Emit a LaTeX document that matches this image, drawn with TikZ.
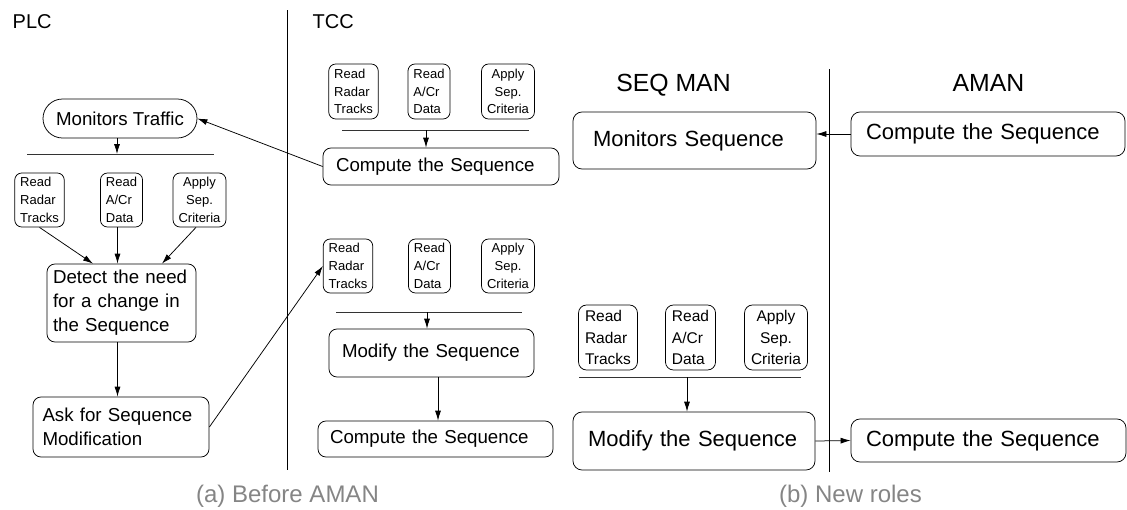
\documentclass[tikz,border=0pt]{standalone}
\usepackage{fontspec}
\setmainfont{Liberation Sans}
\usetikzlibrary{arrows.meta}
\definecolor{capgray}{HTML}{858585}
\newcommand{\fmain}{\fontsize{18.7}{24}\selectfont}
\newcommand{\fsmall}{\fontsize{13}{17.7}\selectfont}
\newcommand{\fmainb}{\fontsize{22}{28}\selectfont}
\newcommand{\fsmallb}{\fontsize{15.5}{21.7}\selectfont}

\begin{document}
\begin{tikzpicture}[x=1pt, y=-1pt, ->, >={Latex[length=10pt,width=6pt]}, line width=0.75pt,
    box/.style={draw, rectangle, rounded corners=8pt, align=left, inner ysep=0pt, font=\fmain},
    boxb/.style={box, rounded corners=9pt, font=\fmainb},
    smallbox/.style={draw, rectangle, rounded corners=7pt, align=left, inner xsep=5.5pt, inner ysep=1pt, minimum height=54pt, font=\fsmall},
    smallboxb/.style={smallbox, rounded corners=8pt, inner xsep=6.5pt, minimum height=65pt, font=\fsmallb},
    title/.style={font=\fontsize{20}{24}\selectfont},
    titleb/.style={font=\fontsize{24.8}{30}\selectfont},
    caption/.style={text=capgray, font=\fontsize{24}{28}\selectfont},
    bar/.style={-, line width=0.8pt, black!80},
    lane/.style={-, line width=1pt}]
    \useasboundingbox (0,0) rectangle (1127,509);

    % (a) before AMAN
    \node[title, anchor=base west] (plc) at (9,28) {PLC};
    \node[title, anchor=base west] (tcc) at (309,28) {TCC};
    \coordinate (laneA_top) at (287,10);
    \coordinate (laneA_bot) at (287,470);
    \draw[lane] (laneA_top) -- (laneA_bot);

    \node[box, align=center, rounded corners=19.5pt, minimum width=154pt, minimum height=39pt] (mon_traffic) at (120,118.5) {Monitors Traffic};
    \coordinate (barA_l) at (27,154);
    \coordinate (barA_r) at (214,154);
    \draw[bar] (barA_l) -- (barA_r);
    \draw ([xshift=-3pt]mon_traffic.south) -- ([xshift=-3pt]mon_traffic.south |- barA_l);

    \node[smallbox] (radar_a) at (39.5,200) {Read\\Radar\\Tracks};
    \node[smallbox] (acr_a) at (121.5,200) {Read\\A/Cr\\Data};
    \node[smallbox, align=center] (sep_a) at (199.5,200) {Apply\\Sep.\\Criteria};

    \node[box, text width=137pt, inner xsep=6pt, minimum height=78pt] (detect) at (121.5,303) {Detect the need\\for a change in\\the Sequence};
    \draw (radar_a.south) -- ([xshift=-28.5pt]detect.north);
    \draw ([xshift=-4pt]acr_a.south) -- ([xshift=-4pt]acr_a.south |- detect.north);
    \draw ([xshift=-3.5pt]sep_a.south) -- ([xshift=40.5pt]detect.north);

    \node[box, text width=157pt, inner xsep=9.5pt, minimum height=60pt] (ask_mod) at (121,427) {Ask for Sequence\\Modification};
    \draw ([xshift=-4pt]detect.south) -- ([xshift=-4pt]detect.south |- ask_mod.north);

    % TCC, top
    \node[smallbox, minimum height=55pt] (radar_b) at (353.5,91.5) {Read\\Radar\\Tracks};
    \node[smallbox, minimum height=55pt] (acr_b) at (429,91.5) {Read\\A/Cr\\Data};
    \node[smallbox, minimum height=55pt, align=center] (sep_b) at (508,91.5) {Apply\\Sep.\\Criteria};
    \coordinate (barB_l) at (342,130);
    \coordinate (barB_r) at (529,130);
    \draw[bar] (barB_l) -- (barB_r);
    \node[box, text width=210pt, inner xsep=13pt, minimum height=37pt] (comp_b) at (441,166.5) {Compute the Sequence};
    \draw ([xshift=-15pt]comp_b.north |- barB_l) -- ([xshift=-15pt]comp_b.north);

    % TCC, bottom
    \node[smallbox] (radar_c) at (348,266) {Read\\Radar\\Tracks};
    \node[smallbox] (acr_c) at (429.5,266) {Read\\A/Cr\\Data};
    \node[smallbox, align=center] (sep_c) at (508,266) {Apply\\Sep.\\Criteria};
    \coordinate (barC_l) at (336,312);
    \coordinate (barC_r) at (522,312);
    \draw[bar] (barC_l) -- (barC_r);
    \node[box, text width=179pt, inner xsep=13pt, minimum height=48pt] (modify_c) at (431.5,353) {Modify the Sequence};
    \draw ([xshift=-4.5pt]modify_c.north |- barC_l) -- ([xshift=-4.5pt]modify_c.north);
    \node[box, text width=211pt, inner xsep=12pt, minimum height=36pt] (comp_c) at (435.5,439) {Compute the Sequence};
    \draw ([xshift=6.5pt]modify_c.south) -- ([xshift=6.5pt]modify_c.south |- comp_c.north);

    % PLC <-> TCC
    \draw (comp_b.west) -- (mon_traffic.east);
    \draw (ask_mod.east) -- (radar_c.west);

    \node[caption, anchor=base] (cap_a) at (287.5,502) {(a) Before AMAN};

    % (b) new roles
    \node[titleb, anchor=base] (seq_man) at (673.5,91.7) {SEQ MAN};
    \node[titleb, anchor=base] (aman) at (988.5,91.7) {AMAN};
    \coordinate (laneB_top) at (829,69);
    \coordinate (laneB_bot) at (829,472);
    \draw[lane] (laneB_top) -- (laneB_bot);

    \node[boxb, text width=203pt, inner xsep=20pt, minimum height=57pt] (mon_seq) at (694.5,140.5) {Monitors Sequence};
    \node[boxb, text width=244pt, inner xsep=15pt, minimum height=44pt] (comp_d) at (988,134) {Compute the Sequence};
    \draw (comp_d.west) -- (comp_d.west -| mon_seq.east);

    \node[smallboxb] (radar_d) at (608,337.5) {Read\\Radar\\Tracks};
    \node[smallboxb] (acr_d) at (690.5,337.5) {Read\\A/Cr\\Data};
    \node[smallboxb, align=center] (sep_d) at (776,337.5) {Apply\\Sep.\\Criteria};
    \coordinate (barD_l) at (579,377);
    \coordinate (barD_r) at (801,377);
    \draw[bar] (barD_l) -- (barD_r);
    \node[boxb, text width=212pt, inner xsep=15pt, minimum height=58pt] (modify_d) at (694,441) {Modify the Sequence};
    \draw ([xshift=-7pt]modify_d.north |- barD_l) -- ([xshift=-7pt]modify_d.north);
    \node[boxb, text width=245pt, inner xsep=15pt, minimum height=43pt] (comp_e) at (988.5,440.5) {Compute the Sequence};
    \draw (modify_d.east) -- (comp_e.west);

    \node[caption, anchor=base] (cap_b) at (850.5,502) {(b) New roles};
\end{tikzpicture}
\end{document}
